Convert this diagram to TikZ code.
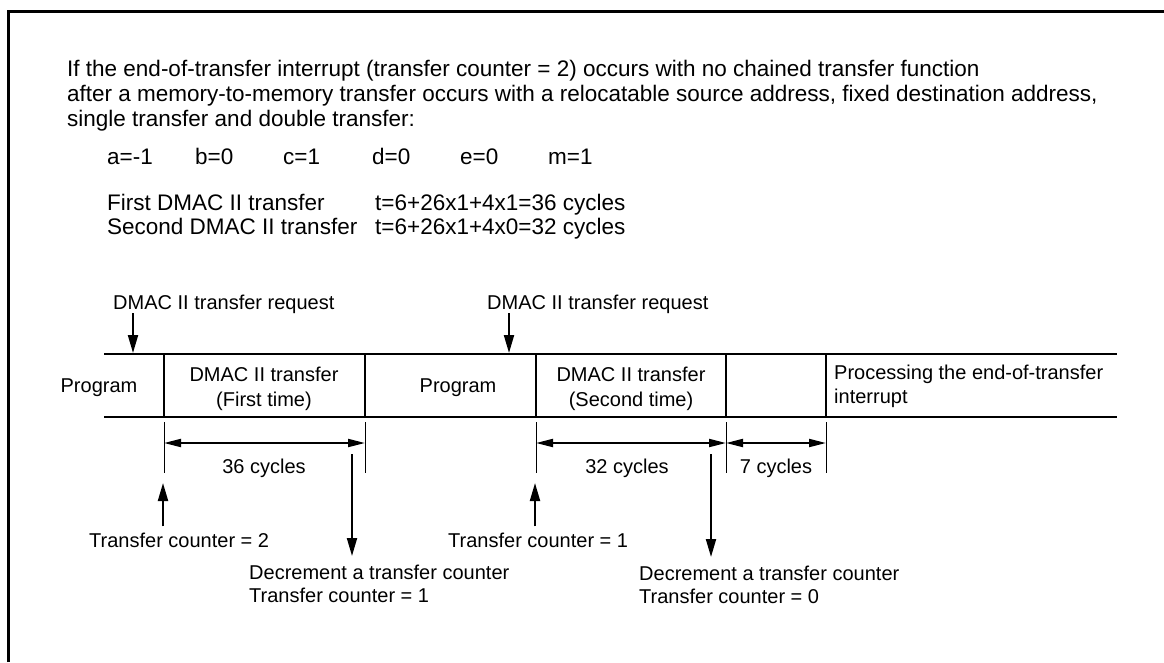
\documentclass[tikz,border=0pt]{standalone}
\usepackage{fontspec}
\setmainfont{Liberation Sans}
\usetikzlibrary{arrows.meta, positioning}

\begin{document}
\begin{tikzpicture}[
    x=1pt, y=-1pt,
    txt/.style={inner sep=0pt, anchor=base west, font=\fontsize{22.5}{24}\selectfont},
    lbl/.style={inner sep=0pt, align=center, font=\fontsize{20}{25}\selectfont},
    rail/.style={line width=2.3pt},
    tick/.style={line width=1pt},
    arrow/.style={-{Triangle[length=18pt, width=10pt]}, line width=2pt},
    dim/.style={{Triangle[length=17pt, width=8pt]}-{Triangle[length=17pt, width=8pt]}, line width=2pt}
]
\useasboundingbox (0,0) rectangle (1164,662);
\draw[line width=3pt] (8,662) -- (8,11) -- (1164,11);

% text above the chart
\node[txt] (intro1) at (67,76) {If the end-of-transfer interrupt (transfer counter = 2) occurs with no chained transfer function};
\node[txt] (intro2) at (67,101) {after a memory-to-memory transfer occurs with a relocatable source address, fixed destination address,};
\node[txt] (intro3) at (67,126) {single transfer and double transfer:};

\node[txt] (va) at (107,164) {a=-1};
\node[txt] (vb) at (195,164) {b=0};
\node[txt] (vc) at (283,164) {c=1};
\node[txt] (vd) at (372,164) {d=0};
\node[txt] (ve) at (460,164) {e=0};
\node[txt] (vm) at (548,164) {m=1};

\node[txt] (first) at (107,210) {First DMAC II transfer};
\node[txt] (tfirst) at (375,210) {t=6+26x1+4x1=36 cycles};
\node[txt] (second) at (107,234) {Second DMAC II transfer};
\node[txt] (tsecond) at (375,234) {t=6+26x1+4x0=32 cycles};

% time line
\draw[rail] (104,354) -- (1117,354);
\draw[rail] (104,417) -- (1117,417);
\foreach \x in {164,365,536,726,826}
    \draw[line width=2pt] (\x,354) -- (\x,417);

\node[lbl, anchor=base] (prog1) at (99,392) {Program};
\node[lbl] (dmac1) at (264,389) {DMAC II transfer\\(First time)};
\node[lbl, anchor=base] (prog2) at (458,392) {Program};
\node[lbl] (dmac2) at (631,389) {DMAC II transfer\\(Second time)};
\node[lbl, align=left, anchor=west, font=\fontsize{20}{24}\selectfont] (proc) at (834,386) {Processing the end-of-transfer\\interrupt};

% requests
\node[lbl, anchor=base west] (req1) at (113,309) {DMAC II transfer request};
\node[lbl, anchor=base west] (req2) at (487,309) {DMAC II transfer request};
\coordinate (rq1) at (133,353);
\coordinate (rq2) at (509,353);
\draw[arrow] (req1.south -| rq1) -- (rq1);
\draw[arrow] (req2.south -| rq2) -- (rq2);

% cycle counts
\foreach \x in {164,365,536,726,826}
    \draw[tick] (\x,422) -- (\x,473);
\coordinate (d1) at (164,443);
\coordinate (d2) at (365,443);
\coordinate (d3) at (536,443);
\coordinate (d4) at (726,443);
\coordinate (d5) at (826,443);
\draw[dim] (d1) -- (d2);
\draw[dim] (d3) -- (d4);
\draw[dim] (d4) -- (d5);
\node[lbl, anchor=base] (cyc1) at (264,473) {36 cycles};
\node[lbl, anchor=base] (cyc2) at (627,473) {32 cycles};
\node[lbl, anchor=base] (cyc3) at (776,473) {7 cycles};

% transfer counter
\node[lbl, anchor=base west] (tc2) at (89,547) {Transfer counter = 2};
\node[lbl, anchor=base west] (tc1) at (448,547) {Transfer counter = 1};
\coordinate (up1) at (163,483);
\coordinate (up2) at (535,483);
\draw[arrow] ([yshift=6pt]tc2.north -| up1) -- (up1);
\draw[arrow] ([yshift=6pt]tc1.north -| up2) -- (up2);

\node[lbl, align=left, anchor=north west, font=\fontsize{20}{23}\selectfont] (dec1) at (249,565) {Decrement a transfer counter\\Transfer counter = 1};
\node[lbl, align=left, anchor=north west, font=\fontsize{20}{23}\selectfont] (dec2) at (639,566) {Decrement a transfer counter\\Transfer counter = 0};
\coordinate (dn1) at (352,454);
\coordinate (dn2) at (711,454);
\draw[arrow] (dn1) -- ([yshift=9pt]dec1.north -| dn1);
\draw[arrow] (dn2) -- ([yshift=9pt]dec2.north -| dn2);
\end{tikzpicture}
\end{document}
